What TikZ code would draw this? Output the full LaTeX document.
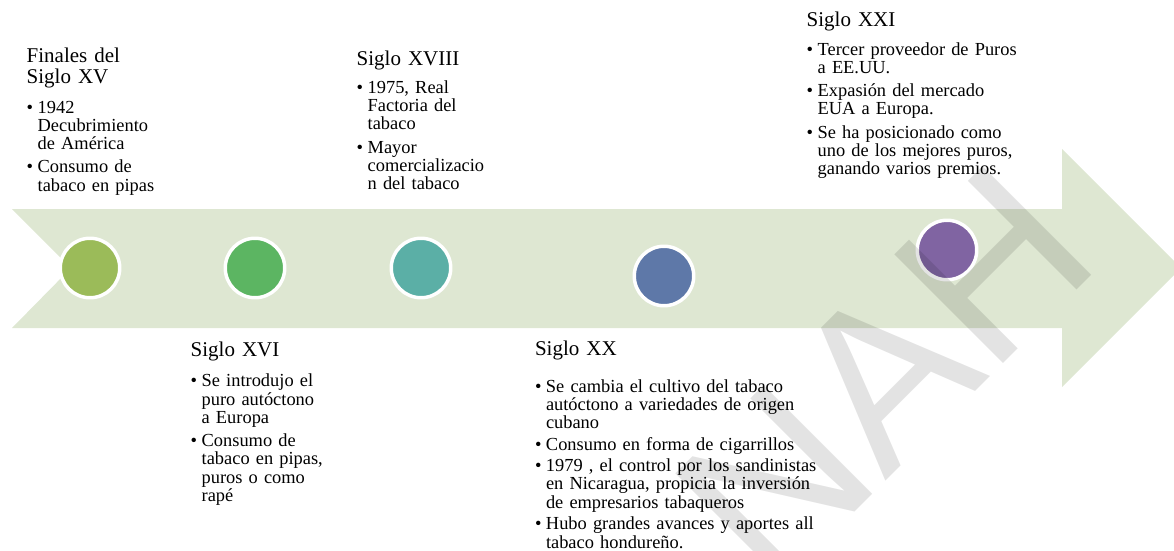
\documentclass[tikz,border=0pt]{standalone}
\usepackage{fontspec}
\setmainfont{Liberation Serif}
\newfontfamily\marksans{Liberation Sans}

\definecolor{arrowfill}{RGB}{222,231,210}
\definecolor{dotA}{RGB}{155,187,89}
\definecolor{dotB}{RGB}{92,181,98}
\definecolor{dotC}{RGB}{91,175,166}
\definecolor{dotD}{RGB}{94,120,168}
\definecolor{dotE}{RGB}{128,100,162}

% hanging bullet paragraphs
\newlength\bind \setlength\bind{8.25pt}
\newlength\bgap \setlength\bgap{3.75pt}
\newcommand\bfirst{\hangindent=\bind\hangafter=1\makebox[\bind][l]{\textbullet}}
\newcommand\bnext{\par\vspace{\bgap}\hangindent=\bind\hangafter=1\noindent\makebox[\bind][l]{\textbullet}}

\begin{document}
\begin{tikzpicture}[x=0.75pt,y=-0.75pt,
  every node/.style={inner sep=0pt, outer sep=0pt},
  heading/.style={anchor=base west, text width=200pt,
    font=\fontsize{15.75}{15.75}\selectfont\raggedright},
  items/.style={anchor=base west, text width=260pt,
    font=\fontsize{13.8}{13.73}\selectfont\raggedright},
  dot/.style={circle, draw=white, line width=2.6pt, minimum size=44.6pt, inner sep=0pt},
]
\clip (0,0) rectangle (1174,550);

% timeline arrow
\fill[arrowfill] (12,209) -- (1062,209) -- (1062,149) -- (1181,268) -- (1062,387)
  -- (1062,328) -- (12,328) -- (71,268) -- cycle;

% milestones
\node[dot, fill=dotA] (p1) at (90,268) {};
\node[dot, fill=dotB] (p2) at (255,268) {};
\node[dot, fill=dotC] (p3) at (421,268) {};
\node[dot, fill=dotD] (p4) at (664,276) {};
\node[dot, fill=dotE] (p5) at (947,250) {};

% Finales del Siglo XV
\node[heading] (h1) at (26.7,62) {Finales del\newline Siglo XV};
\node[items] (t1) at (26.7,113) {\bfirst 1942\newline Decubrimiento\newline de América
  \bnext Consumo de\newline tabaco en pipas\par};

% Siglo XVI
\node[heading] (h2) at (190.7,356.7) {Siglo XVI};
\node[items] (t2) at (190.7,386.7) {\bfirst Se introdujo el\newline puro autóctono\newline a Europa
  \bnext Consumo de\newline tabaco en pipas,\newline puros o como\newline rapé\par};

% Siglo XVIII
\node[heading] (h3) at (356.7,65) {Siglo XVIII};
\node[items] (t3) at (356.7,93.3) {\bfirst 1975, Real\newline Factoria del\newline tabaco
  \bnext Mayor\newline comercializacio\newline n del tabaco\par};

% Siglo XX
\node[heading] (h4) at (535,355) {Siglo XX};
\node[items] (t4) at (535,392) {\setlength\bgap{2.4pt}\bfirst Se cambia el cultivo del tabaco\newline autóctono a variedades de origen\newline cubano
  \bnext Consumo en forma de cigarrillos
  \bnext 1979 , el control por los sandinistas\newline en Nicaragua, propicia la inversión\newline de empresarios tabaqueros
  \bnext Hubo grandes avances y aportes all\newline tabaco hondureño.\par};

% Siglo XXI
\node[heading] (h5) at (806.7,26) {Siglo XXI};
\node[items] (t5) at (806.7,55) {\bfirst Tercer proveedor de Puros\newline a EE.UU.
  \bnext Expasión del mercado\newline EUA a Europa.
  \bnext Se ha posicionado como\newline uno de los mejores puros,\newline ganando varios premios.\par};

% watermark
\node[rotate=45, anchor=base, text=black, text opacity=0.11,
  font=\marksans\fontsize{167.6}{167.6}\selectfont] (mark) at (938,429) {NAH};
\end{tikzpicture}
\end{document}
